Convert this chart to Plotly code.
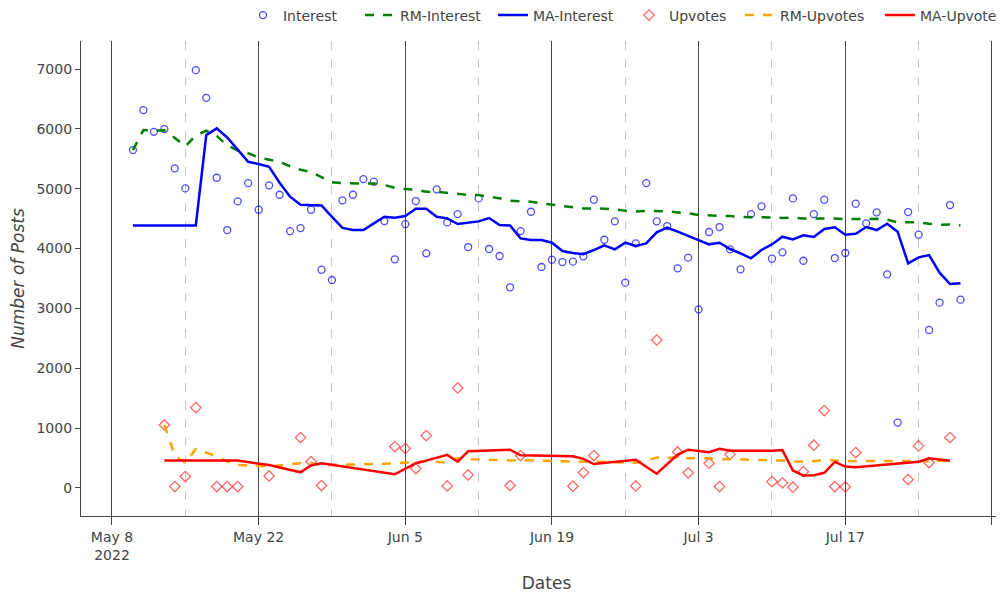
import plotly.graph_objects as go
import pandas as pd

# ---- Interest (daily, 2022-05-10 .. 2022-07-28) ----
interest_dates = pd.date_range("2022-05-10", "2022-07-28", freq="D")
interest = [5647, 6315, 5952, 5997, 5341, 5006, 6983, 6520, 5184, 4310,
            4789, 5095, 4650, 5057, 4900, 4293, 4343, 4650, 3647, 3475,
            4806, 4900, 5162, 5118, 4460, 3821, 4410, 4795, 3921, 4990,
            4438, 4577, 4026, 4839, 3993, 3876, 3353, 4293, 4616, 3692,
            3814, 3775, 3781, 3870, 4817, 4148, 4455, 3430, 4087, 5095,
            4455, 4377, 3670, 3848, 2985, 4277, 4360, 3987, 3653, 4577,
            4706, 3831, 3937, 4839, 3797, 4577, 4817, 3842, 3926, 4750,
            4422, 4606, 3570, 1091, 4611, 4232, 2640, 3096, 4728, 3146]
rm_interest = [5647, 5981, 5971, 5978, 5850, 5710, 5892, 5970, 5883, 5726,
               5640, 5595, 5522, 5489, 5450, 5377, 5317, 5280, 5194, 5108,
               5093, 5085, 5088, 5089, 5064, 5016, 4994, 4987, 4950, 4951,
               4935, 4924, 4896, 4894, 4869, 4841, 4801, 4788, 4783, 4756,
               4733, 4710, 4689, 4670, 4673, 4662, 4657, 4632, 4621, 4630,
               4627, 4622, 4604, 4590, 4561, 4556, 4552, 4543, 4528, 4528,
               4531, 4520, 4511, 4516, 4505, 4506, 4511, 4501, 4492, 4496,
               4495, 4497, 4484, 4438, 4440, 4438, 4414, 4397, 4401, 4386]
ma_interest = [4388, 4388, 4388, 4388, 4388, 4388, 4388, 5897, 6009, 5858,
               5663, 5451, 5413, 5368, 5101, 4867, 4733, 4733, 4722, 4530,
               4345, 4310, 4310, 4422, 4533, 4516, 4544, 4666, 4666, 4533,
               4505, 4410, 4433, 4455, 4511, 4394, 4388, 4171, 4143, 4143,
               4098, 3959, 3926, 3905, 3976, 4054, 3987, 4098, 4043, 4087,
               4271, 4349, 4283, 4210, 4132, 4071, 4098, 3993, 3921, 3837,
               3976, 4070, 4199, 4154, 4221, 4193, 4327, 4355, 4232, 4249,
               4360, 4310, 4416, 4283, 3754, 3854, 3892, 3597, 3408, 3420]

# ---- Upvotes (only days with data) ----
upvote_dates = ["2022-05-13", "2022-05-14", "2022-05-15", "2022-05-16", "2022-05-18",
                "2022-05-19", "2022-05-20", "2022-05-23", "2022-05-26", "2022-05-27",
                "2022-05-28", "2022-06-04", "2022-06-05", "2022-06-06", "2022-06-07",
                "2022-06-09", "2022-06-10", "2022-06-11", "2022-06-15", "2022-06-16",
                "2022-06-21", "2022-06-22", "2022-06-23", "2022-06-27", "2022-06-29",
                "2022-07-01", "2022-07-02", "2022-07-04", "2022-07-05", "2022-07-06",
                "2022-07-10", "2022-07-11", "2022-07-12", "2022-07-13", "2022-07-14",
                "2022-07-15", "2022-07-16", "2022-07-17", "2022-07-18", "2022-07-23",
                "2022-07-24", "2022-07-25", "2022-07-27"]
upvotes = [1052, 22, 189, 1342, 22, 22, 22, 200, 841, 440,
           39, 690, 657, 323, 874, 33, 1671, 217, 39, 540,
           28, 256, 540, 33, 2472, 601, 251, 412, 22, 560,
           105, 84, 11, 273, 713, 1292, 22, 17, 590, 139,
           702, 423, 841]
rm_upvotes = [1052, 537, 421, 651, 525, 441, 382, 359, 412, 415,
              381, 407, 426, 419, 449, 423, 496, 481, 458, 462,
              441, 433, 437, 420, 503, 506, 497, 494, 478, 480,
              468, 456, 443, 438, 446, 469, 457, 445, 449, 440,
              448, 447, 456]
ma_upvotes = [456, 456, 456, 456, 456, 456, 456, 382, 260, 377,
              413, 227, 322, 413, 456, 552, 437, 612, 638, 545,
              528, 486, 398, 470, 236, 558, 639, 597, 652, 619,
              622, 632, 291, 206, 210, 253, 434, 357, 345, 417,
              435, 496, 455]

# ---- x tick labels ----
tick_dates = ["2022-05-08", "2022-05-22", "2022-06-05", "2022-06-19",
              "2022-07-03", "2022-07-17", "2022-07-31"]
tick_labels = ["May 8<br>2022", "May 22", "Jun 5", "Jun 19", "Jul 3", "Jul 17", ""]

DAY = 86400000

fig = go.Figure()
fig.add_trace(go.Scatter(x=interest_dates, y=interest, mode="markers", name="Interest",
                         legend="legend",
                         marker=dict(symbol="circle-open", color="blue", size=7, opacity=0.7,
                                     line=dict(width=1.3))))
fig.add_trace(go.Scatter(x=interest_dates, y=rm_interest, mode="lines", name="RM-Interest",
                         legend="legend2",
                         line=dict(color="green", dash="dash", width=2.5)))
fig.add_trace(go.Scatter(x=interest_dates, y=ma_interest, mode="lines", name="MA-Interest",
                         legend="legend3",
                         line=dict(color="blue", width=2.5)))
fig.add_trace(go.Scatter(x=upvote_dates, y=upvotes, mode="markers", name="Upvotes",
                         legend="legend4",
                         marker=dict(symbol="diamond-open", color="red", size=8, opacity=0.6,
                                     line=dict(width=1.3))))
fig.add_trace(go.Scatter(x=upvote_dates, y=rm_upvotes, mode="lines", name="RM-Upvotes",
                         legend="legend5",
                         line=dict(color="orange", dash="dash", width=2.5)))
fig.add_trace(go.Scatter(x=upvote_dates, y=ma_upvotes, mode="lines", name="MA-Upvotes",
                         legend="legend6",
                         line=dict(color="red", width=2.5)))


def leg(x):
    return dict(orientation="h", x=x, xanchor="left", y=1.02, yanchor="bottom",
                font=dict(size=14), bgcolor="rgba(0,0,0,0)", visible=True)


fig.update_layout(
    width=1004, height=592,
    showlegend=True,
    margin=dict(l=73, r=0, t=33, b=84, autoexpand=False),
    plot_bgcolor="white", paper_bgcolor="white",
    font=dict(family="DejaVu Sans", size=14, color="#444"),
    legend=leg(0.1740), legend2=leg(0.2997), legend3=leg(0.4425),
    legend4=leg(0.5886), legend5=leg(0.7078), legend6=leg(0.8582),
    xaxis=dict(
        range=["2022-05-05 01:00", "2022-08-01 22:00"],
        tickmode="array", tickvals=tick_dates, ticktext=tick_labels,
        ticks="outside", ticklen=8, tickcolor="#444",
        showline=True, linecolor="#444", linewidth=1.2,
        showgrid=True, gridcolor="#444", gridwidth=1.2,
        zeroline=False, automargin=False,
        minor=dict(tickmode="linear", tick0="2022-05-08", dtick=7 * DAY, showgrid=True,
                   gridcolor="#c8c8c8", griddash="dash", gridwidth=1.2),
        title=dict(text="Dates"),
    ),
    yaxis=dict(
        range=[-470, 7470], dtick=1000,
        ticks="outside", ticklen=5, tickcolor="#444",
        showline=True, linecolor="#444", linewidth=1.2,
        showgrid=False, zeroline=False, automargin=False,
        title=dict(text="Number of Posts", font=dict(style="italic")),
    ),
)

fig.write_html("out.html")
